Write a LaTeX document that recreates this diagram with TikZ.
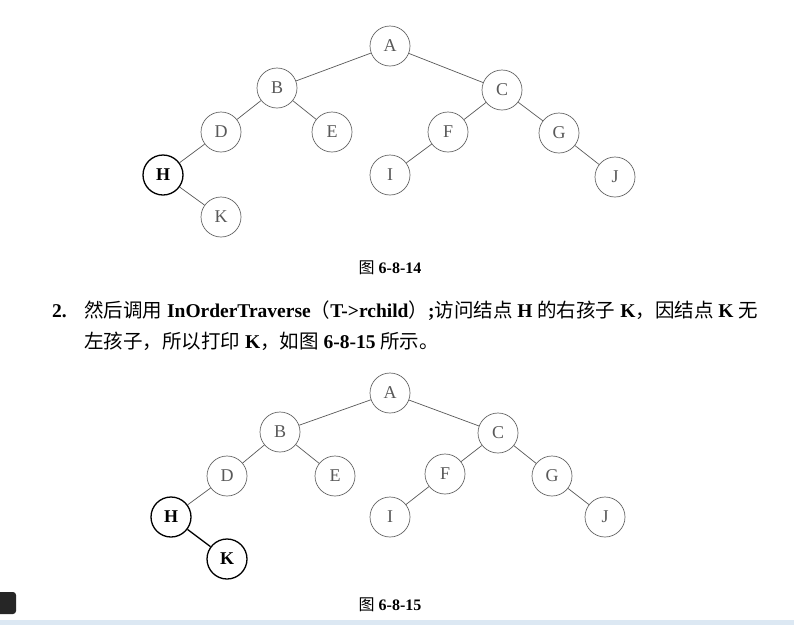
\documentclass[tikz,border=0pt]{standalone}
\usepackage{fontspec}
\setmainfont{Liberation Serif}
\newfontfamily\cjk{Noto Sans CJK SC}
\definecolor{bandblue}{RGB}{220,232,243}
\begin{document}
\begin{tikzpicture}[x=1pt,y=-1pt,
  nd/.style={circle,draw=black!60,line width=0.7pt,minimum size=40pt,inner sep=0pt,font=\fontsize{18}{18}\selectfont,text=black!65},
  hl/.style={circle,draw=black,line width=1.3pt,minimum size=40pt,inner sep=0pt,font=\fontsize{18}{18}\selectfont\bfseries,text=black},
  ed/.style={draw=black!65,line width=0.7pt},
  hed/.style={draw=black,line width=1.3pt},
  figcap/.style={font=\fontsize{16}{16}\selectfont},
  txt/.style={anchor=west,inner sep=0pt,font=\fontsize{19.5}{19.5}\selectfont}]
\useasboundingbox (0,0) rectangle (794,625);
\fill[white] (0,0) rectangle (794,625);
\fill[bandblue] (0,620) rectangle (794,625);
\fill[black!85,rounded corners=3pt] (-5,592) rectangle (16,614);
% top tree
\node[nd] (A1) at (390,46) {A};
\node[nd] (B1) at (277,88) {B};
\node[nd] (C1) at (502,90) {C};
\node[nd] (D1) at (221,132) {D};
\node[nd] (E1) at (332,132) {E};
\node[nd] (F1) at (448,132) {F};
\node[nd] (G1) at (559,133) {G};
\node[hl] (H1) at (163,175) {H};
\node[nd] (I1) at (390,175) {I};
\node[nd] (J1) at (615,177) {J};
\node[nd] (K1) at (221,217) {K};
\draw[ed] (A1)--(B1) (A1)--(C1) (B1)--(D1) (B1)--(E1) (C1)--(F1) (C1)--(G1)
  (D1)--(H1) (H1)--(K1) (F1)--(I1) (G1)--(J1);
\node[figcap] (cap1) at (390,268) {{\cjk 图} \textbf{6-8-14}};
% paragraph
\node[txt] (n2) at (52,311) {\textbf{2.}};
\node[txt] (l1) at (84,311) {{\cjk 然后调用} \textbf{InOrderTraverse}{\cjk （}\textbf{T->rchild}{\cjk ）}\textbf{;}{\cjk 访问结点} \textbf{H} {\cjk 的右孩子} \textbf{K}{\cjk ，因结点} \textbf{K} {\cjk 无}};
\node[txt] (l2) at (84,341) {{\cjk 左孩子，所以打印} \textbf{K}{\cjk ，如图} \textbf{6-8-15} {\cjk 所示。}};
% bottom tree
\node[nd] (A2) at (390,393) {A};
\node[nd] (B2) at (280,432) {B};
\node[nd] (C2) at (498,433) {C};
\node[nd] (D2) at (227,476) {D};
\node[nd] (E2) at (335,476) {E};
\node[nd] (F2) at (445,474) {F};
\node[nd] (G2) at (552,476) {G};
\node[hl] (H2) at (171,517) {H};
\node[nd] (I2) at (390,517) {I};
\node[nd] (J2) at (605,517) {J};
\node[hl] (K2) at (227,559) {K};
\draw[ed] (A2)--(B2) (A2)--(C2) (B2)--(D2) (B2)--(E2) (C2)--(F2) (C2)--(G2)
  (D2)--(H2) (F2)--(I2) (G2)--(J2);
\draw[hed] (H2)--(K2);
\node[figcap] (cap2) at (390,605) {{\cjk 图} \textbf{6-8-15}};
\end{tikzpicture}
\end{document}
